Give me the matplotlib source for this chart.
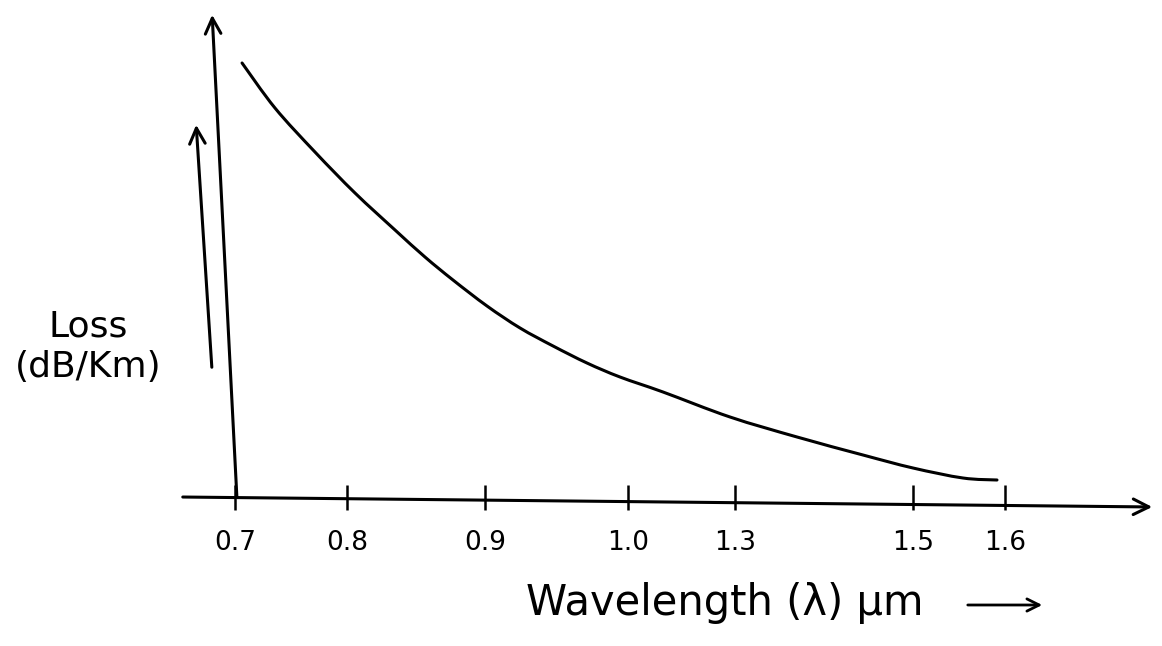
import numpy as np
import matplotlib
matplotlib.use("Agg")
import matplotlib.pyplot as plt
from matplotlib.path import Path
from matplotlib.patches import PathPatch

# tick wavelengths (um) and their labels as written on the sketch
tick_wavelengths = [0.7, 0.8, 0.9, 1.0, 1.3, 1.5, 1.6]
tick_labels = ["0.7", "0.8", "0.9", "1.0", "1.3", "1.5", "1.6"]

# loss curve (wavelength in um, loss in arbitrary dB/km units)
curve_wavelength = [0.7063, 0.7357, 0.7714, 0.8058, 0.8348, 0.8565, 0.8768,
                    0.9014, 0.9245, 0.9476, 0.9713, 0.9944, 1.0981, 1.2860,
                    1.3697, 1.4438, 1.5000, 1.5543, 1.5913]
curve_loss = [8.68, 7.78, 6.90, 6.08, 5.34, 4.80, 4.34,
              3.82, 3.38, 3.02, 2.68, 2.40, 2.10, 1.60,
              1.20, 0.84, 0.58, 0.38, 0.34]

# the sketch is not to scale: where each tick sits along the drawn axis
tick_pos = [0.0, 1.12, 2.5, 3.93, 5.0, 6.78, 7.7]


def to_axis(wl):
    return np.interp(wl, tick_wavelengths, tick_pos)


def smooth_path(xs, ys):
    # catmull-rom through the points, drawn as cubic bezier segments
    pts = np.column_stack([xs, ys])
    ext = np.vstack([pts[0], pts, pts[-1]])
    verts = [pts[0]]
    codes = [Path.MOVETO]
    for i in range(1, len(ext) - 2):
        p0, p1, p2, p3 = ext[i - 1], ext[i], ext[i + 1], ext[i + 2]
        verts += [p1 + (p2 - p0) / 6, p2 - (p3 - p1) / 6, p2]
        codes += [Path.CURVE4] * 3
    return Path(verts, codes)


fig = plt.figure(figsize=(11.62, 6.46), dpi=100)
ax = fig.add_axes([0, 0, 1, 1])
ax.set_xlim(-2.35, 9.27)
ax.set_ylim(-2.98, 9.94)
for s in ax.spines.values():
    s.set_color("none")
ax.spines["bottom"].set_position(("data", 0))

# curve
ax.add_patch(PathPatch(smooth_path(to_axis(curve_wavelength), curve_loss),
                       facecolor="none", edgecolor="black", lw=2.2,
                       capstyle="round"))

# axes drawn as arrows, like the sketch
arrow = dict(arrowstyle="->", lw=2.2, color="black", mutation_scale=28)
ax.annotate("", xy=(9.2, -0.2), xytext=(-0.55, 0.0), arrowprops=arrow)
ax.annotate("", xy=(-0.23, 9.7), xytext=(0.02, -0.05), arrowprops=arrow)
ax.annotate("", xy=(-0.39, 7.5), xytext=(-0.23, 2.54), arrowprops=arrow)

# ticks
ax.set_xticks(to_axis(tick_wavelengths), tick_labels)
ax.tick_params(axis="x", direction="inout", length=18, width=1.8, pad=15,
               labelsize=19, colors="black")
ax.set_yticks([])

# labels
ax.text(-1.47, 3.0, "Loss\n(dB/Km)", fontsize=26, ha="center", va="center",
        linespacing=1.25)
ax.text(4.9, -2.12, "Wavelength (λ) μm", fontsize=30, ha="center", va="center")
ax.annotate("", xy=(8.1, -2.16), xytext=(7.3, -2.16),
            arrowprops=dict(arrowstyle="->", lw=2, color="black", mutation_scale=22))

fig.savefig("out.png", dpi=100, facecolor="white")
